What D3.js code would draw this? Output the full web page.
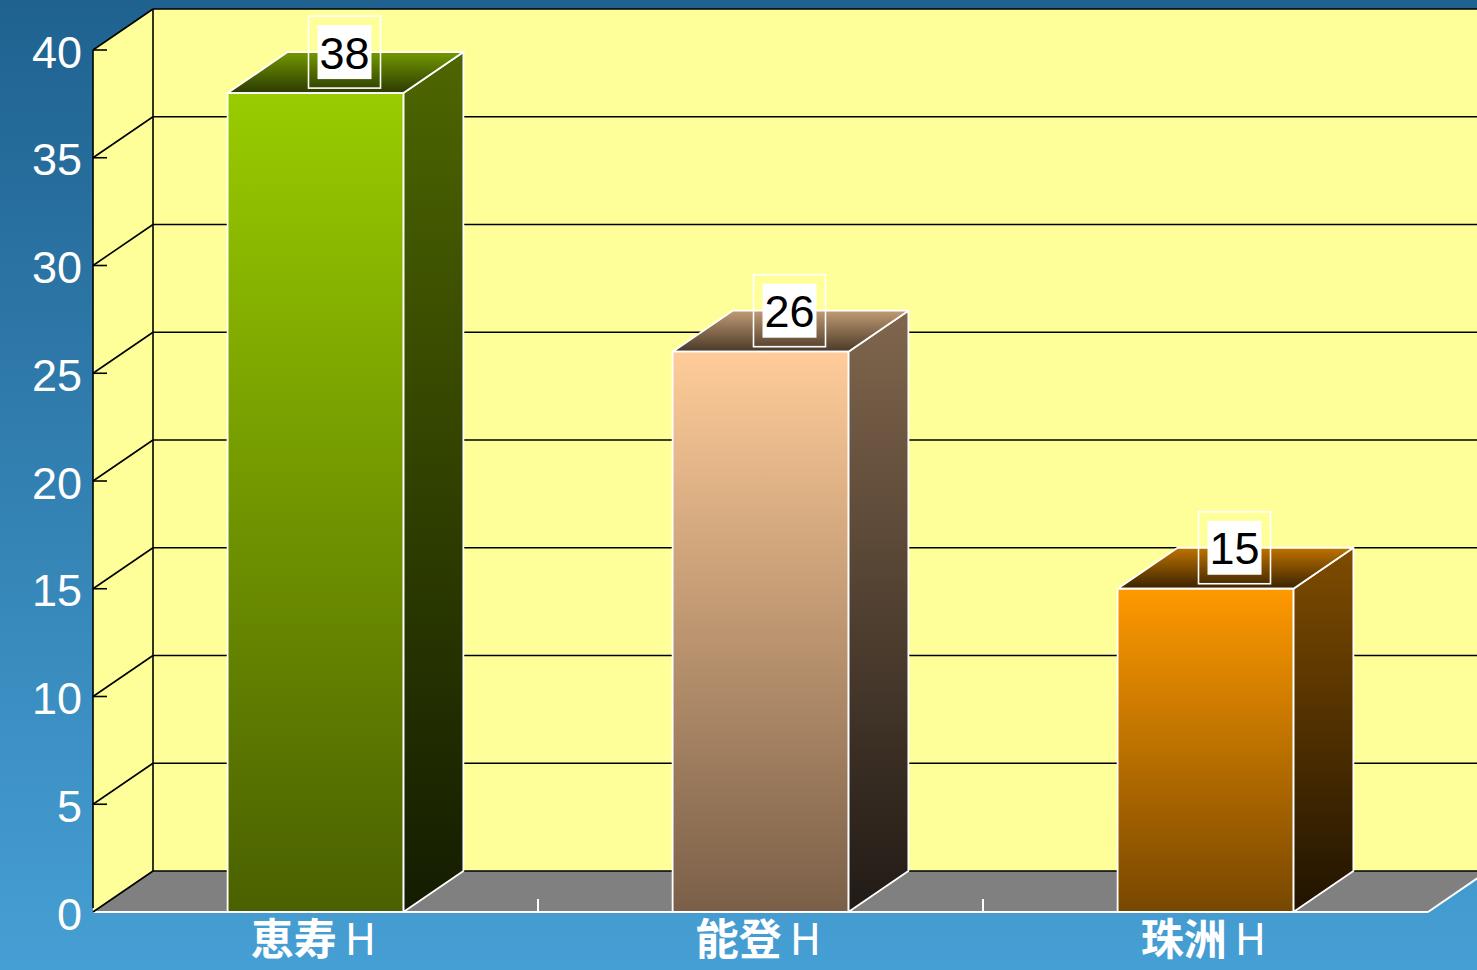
<html>
<head>
  <script src="https://d3js.org/d3.v7.min.js"></script>
  <style>
    body { margin: 0; }
  </style>
</head>
<body>
  <svg id="chart" width="1477" height="970"></svg>
  <script>
    const categories = ["恵寿H", "能登H", "珠洲H"];
    const values = [38, 26, 15];
    const yTicks = [0, 5, 10, 15, 20, 25, 30, 35, 40];
    // front top, front bottom, side top, side bottom, roof back, roof front
    const palette = [
      ["#99cc00", "#4a6000", "#4d6600", "#141c00", "#739900", "#2b3a00"],
      ["#ffcc99", "#7a5f48", "#80664d", "#211a15", "#c09b74", "#4a3928"],
      ["#ff9900", "#774700", "#7f4c00", "#201300", "#bf7300", "#3a2300"]
    ];

    const plotLeft = 93, plotRight = 1428, plotTop = 50, plotBottom = 912;
    const dx = 60, dy = -41;

    const svg = d3.select("#chart");
    const defs = svg.append("defs");

    const bg = defs.append("linearGradient").attr("id", "bg")
      .attr("x1", 0).attr("y1", 0).attr("x2", 0).attr("y2", 1);
    bg.append("stop").attr("offset", "0%").attr("stop-color", "#1f6290");
    bg.append("stop").attr("offset", "100%").attr("stop-color", "#469fd4");

    svg.append("rect").attr("width", 1477).attr("height", 970).attr("fill", "url(#bg)");

    const x = d3.scaleBand().domain(categories).range([plotLeft, plotRight]);
    const y = d3.scaleLinear().domain([0, 40]).range([plotBottom, plotTop]);
    const barW = x.bandwidth() * 0.395;

    // walls
    svg.append("polygon")
      .attr("points", [[plotLeft + dx, y(40) + dy], [plotRight + dx + 80, y(40) + dy], [plotRight + dx + 80, y(0) + dy], [plotLeft + dx, y(0) + dy]].join(" "))
      .attr("fill", "#ffff99");
    svg.append("polygon")
      .attr("points", [[plotLeft, y(40)], [plotLeft + dx, y(40) + dy], [plotLeft + dx, y(0) + dy], [plotLeft, y(0)]].join(" "))
      .attr("fill", "#ffff99");
    svg.append("polygon")
      .attr("points", [[plotLeft, y(0)], [plotLeft + dx, y(0) + dy], [plotRight + dx, y(0) + dy], [plotRight, y(0)]].join(" "))
      .attr("fill", "#808080");

    // gridlines
    const grid = svg.append("g").attr("stroke", "#000").attr("stroke-width", 1.6).attr("fill", "none");
    yTicks.forEach(v => {
      grid.append("line")
        .attr("x1", plotLeft + dx).attr("x2", 1477)
        .attr("y1", y(v) + dy).attr("y2", y(v) + dy);
      if (v > 0) {
        grid.append("line")
          .attr("x1", plotLeft).attr("y1", y(v))
          .attr("x2", plotLeft + dx).attr("y2", y(v) + dy);
        grid.append("line")
          .attr("x1", plotLeft).attr("x2", plotLeft + 14)
          .attr("y1", y(v)).attr("y2", y(v));
      }
    });
    grid.append("line").attr("x1", plotLeft + dx).attr("x2", plotLeft + dx)
      .attr("y1", y(40) + dy).attr("y2", y(0) + dy);
    grid.append("line").attr("x1", plotLeft).attr("x2", plotLeft)
      .attr("y1", y(40)).attr("y2", y(0) - 4);

    // floor front edge
    const floorG = svg.append("g").attr("stroke", "#fff").attr("stroke-width", 2).attr("fill", "none");
    floorG.append("line").attr("x1", plotLeft).attr("x2", plotRight).attr("y1", y(0)).attr("y2", y(0));
    floorG.append("line").attr("x1", plotRight).attr("y1", y(0)).attr("x2", plotRight + dx).attr("y2", y(0) + dy);
    floorG.append("line").attr("x1", plotLeft).attr("y1", y(0)).attr("x2", plotLeft + dx).attr("y2", y(0) + dy)
      .attr("stroke", "#000").attr("stroke-width", 1.6);
    categories.slice(1).forEach(c => {
      floorG.append("line").attr("x1", x(c)).attr("x2", x(c))
        .attr("y1", y(0)).attr("y2", y(0) - 13);
    });

    // y labels
    svg.append("g").selectAll("text").data(yTicks).join("text")
      .attr("x", 82).attr("y", d => y(d) + 2)
      .attr("text-anchor", "end").attr("dominant-baseline", "central")
      .attr("fill", "#fff").attr("font-family", "Liberation Sans, Arial, sans-serif")
      .attr("font-size", 45)
      .text(d => d);

    function grad(id, c1, c2) {
      const g = defs.append("linearGradient").attr("id", id)
        .attr("x1", 0).attr("y1", 0).attr("x2", 0).attr("y2", 1);
      g.append("stop").attr("offset", "0%").attr("stop-color", c1);
      g.append("stop").attr("offset", "100%").attr("stop-color", c2);
    }

    // bars
    categories.forEach((c, i) => {
      const p = palette[i];
      grad("front" + i, p[0], p[1]);
      grad("side" + i, p[2], p[3]);
      grad("roof" + i, p[4], p[5]);
      const x0 = x(c) + (x.bandwidth() - barW) / 2, x1 = x0 + barW;
      const yt = y(values[i]), yb = y(0);
      const g = svg.append("g").attr("stroke", "#fff").attr("stroke-width", 1.8).attr("stroke-linejoin", "round");
      g.append("polygon")
        .attr("points", [[x1, yt], [x1 + dx, yt + dy], [x1 + dx, yb + dy], [x1, yb]].join(" "))
        .attr("fill", `url(#side${i})`);
      g.append("polygon")
        .attr("points", [[x0, yt], [x0 + dx, yt + dy], [x1 + dx, yt + dy], [x1, yt]].join(" "))
        .attr("fill", `url(#roof${i})`);
      g.append("rect")
        .attr("x", x0).attr("y", yt).attr("width", barW).attr("height", yb - yt)
        .attr("fill", `url(#front${i})`);

      // value label
      const cx = (x0 + x1) / 2 + dx / 2 - 1, cy = yt - 41;
      svg.append("rect")
        .attr("x", cx - 36).attr("y", cy - 36).attr("width", 72).attr("height", 72)
        .attr("fill", "none").attr("stroke", "#fff").attr("stroke-width", 1.6);
      svg.append("rect")
        .attr("x", cx - 27).attr("y", cy - 27).attr("width", 54).attr("height", 54)
        .attr("fill", "#fff");
      svg.append("text")
        .attr("x", cx).attr("y", cy + 1)
        .attr("text-anchor", "middle").attr("dominant-baseline", "central")
        .attr("font-family", "Liberation Sans, Arial, sans-serif").attr("font-size", 45)
        .attr("fill", "#000")
        .text(values[i]);
    });

    // category labels
    const catText = svg.append("g").selectAll("text").data(categories).join("text")
      .attr("x", d => x(d) + x.bandwidth() / 2 - 2)
      .attr("y", 955)
      .attr("text-anchor", "middle")
      .attr("fill", "#fff").attr("font-weight", "bold")
      .attr("font-family", "Noto Sans CJK JP, sans-serif").attr("font-size", 43);
    catText.append("tspan").text(d => d.slice(0, -1));
    catText.append("tspan").attr("dx", 8).attr("font-weight", "normal").text(d => d.slice(-1));
  </script>
</body>
</html>
